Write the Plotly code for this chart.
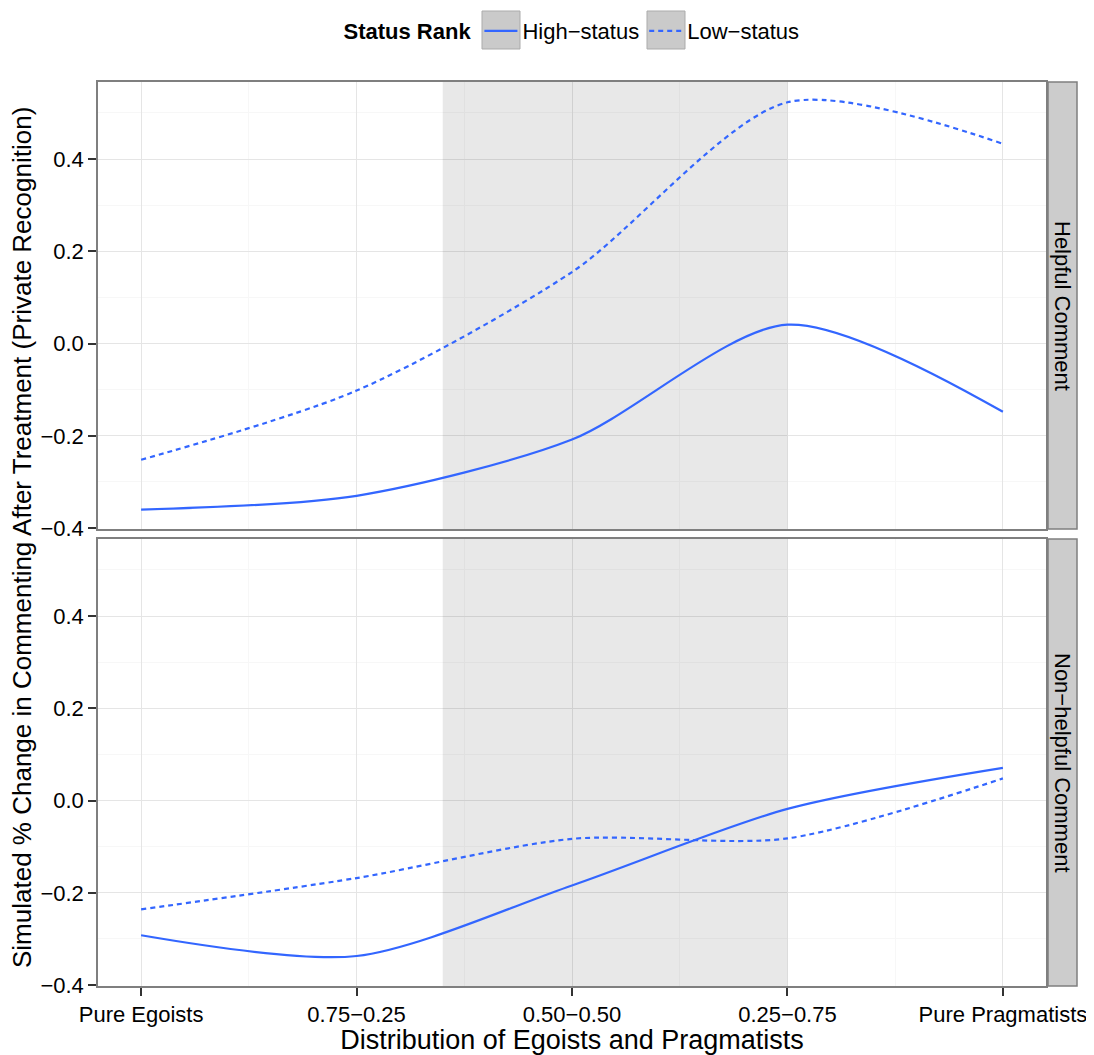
import plotly.graph_objects as go

# ---------------- data ----------------
categories = ["Pure Egoists", "0.75\u22120.25", "0.50\u22120.50", "0.25\u22120.75", "Pure Pragmatists"]
x_pos = [1, 2, 3, 4, 5]

helpful_high = [-0.360, -0.330, -0.208, 0.041, -0.148]
helpful_low = [-0.252, -0.102, 0.155, 0.523, 0.433]
nonhelpful_high = [-0.292, -0.337, -0.184, -0.018, 0.071]
nonhelpful_low = [-0.236, -0.168, -0.083, -0.082, 0.048]

facet_labels = ["Helpful Comment", "Non\u2212helpful Comment"]
series_names = ["High\u2212status", "Low\u2212status"]
shade_start, shade_end = 2.4, 4.0
y_ticks = [-0.4, -0.2, 0.0, 0.2, 0.4]
X_RANGE = [0.8, 5.2]
Y_RANGE = [-0.402, 0.567]

# ---------------- style ----------------
FONT = "Liberation Sans, Arial, Helvetica, sans-serif"
BLUE = "#3366FF"
BORDER = "#7f7f7f"
OFF = 8  # page body margin
W, H = 1094 - OFF, 1055 - OFF
ML = 98 - OFF
MT = 82 - OFF
MR = W - (1077 - OFF)
MB = H - (986 - OFF)
PW = W - ML - MR
PH = H - MT - MB


def px_x(page_x):
    return (page_x - OFF - ML) / PW


def px_y(page_y):
    return 1 + (MT - (page_y - OFF)) / PH


x_dom_end = px_x(1046)
strip_x0 = px_x(1048)
top_dom = [px_y(529), 1.0]
bot_dom = [0.0, px_y(539)]

SMOOTH = 0.8

fig = go.Figure()

panels = [
    ("x", "y", helpful_high, helpful_low),
    ("x2", "y2", nonhelpful_high, nonhelpful_low),
]
for i, (xa, ya, hi, lo) in enumerate(panels):
    fig.add_trace(go.Scatter(
        x=x_pos, y=hi, mode="lines", name=series_names[0],
        line=dict(color=BLUE, width=2.2, shape="spline", smoothing=SMOOTH),
        xaxis=xa, yaxis=ya, showlegend=(i == 0), legendgroup="hi"))
    fig.add_trace(go.Scatter(
        x=x_pos, y=lo, mode="lines", name=series_names[1],
        line=dict(color=BLUE, width=2.2, shape="spline", smoothing=SMOOTH, dash="5px,4px"),
        xaxis=xa, yaxis=ya, showlegend=(i == 0), legendgroup="lo"))

shapes = []
annotations = []
for xa, ya, dom, lab in [("x", "y", top_dom, facet_labels[0]), ("x2", "y2", bot_dom, facet_labels[1])]:
    shapes.append(dict(type="rect", xref=xa, yref=ya, x0=shade_start, x1=shade_end,
                       y0=Y_RANGE[0], y1=Y_RANGE[1], fillcolor="rgba(0,0,0,0.09)", line=dict(width=0),
                       layer="between"))
    shapes.append(dict(type="rect", xref="paper", yref="paper", x0=strip_x0, x1=1.0,
                       y0=dom[0], y1=dom[1], fillcolor="#cccccc", line=dict(color=BORDER, width=1.5),
                       layer="below"))
    annotations.append(dict(text=lab, xref="paper", yref="paper", x=(strip_x0 + 1.0) / 2,
                            y=(dom[0] + dom[1]) / 2,
                            showarrow=False, textangle=90, font=dict(size=22, color="#000000", family=FONT),
                            xanchor="center", yanchor="middle"))

# legend key backgrounds
for cx in (501, 666):
    shapes.append(dict(type="rect", xref="paper", yref="paper", x0=px_x(cx - 19), x1=px_x(cx + 19),
                       y0=px_y(49), y1=px_y(11), fillcolor="#cacaca", line=dict(color="#ababab", width=1),
                       layer="below"))

annotations.append(dict(text="Simulated % Change in Commenting After Treatment (Private Recognition)",
                        xref="paper", yref="paper", x=px_x(22), y=px_y(538),
                        showarrow=False, textangle=-90, xanchor="center", yanchor="middle",
                        font=dict(size=26, color="#000000", family=FONT)))

common_x = dict(range=X_RANGE, tickvals=x_pos, ticktext=categories,
                showgrid=True, gridcolor="#e5e5e5", gridwidth=1,
                minor=dict(dtick=0.5, tick0=0.5, showgrid=True, gridcolor="#f7f7f7", gridwidth=1),
                showline=True, mirror=True, linecolor=BORDER, linewidth=1.5,
                zeroline=False, domain=[0, x_dom_end], automargin=False)
common_y = dict(range=Y_RANGE, tickvals=y_ticks, tickformat=".1f",
                showgrid=True, gridcolor="#e5e5e5", gridwidth=1,
                minor=dict(dtick=0.1, tick0=0.1, showgrid=True, gridcolor="#f7f7f7", gridwidth=1),
                showline=True, mirror=True, linecolor=BORDER, linewidth=1.5,
                zeroline=False, ticks="outside", ticklen=8, tickwidth=2, tickcolor="#333333",
                tickfont=dict(size=22, color="#000000", family=FONT), ticklabelstandoff=0,
                automargin=False)

fig.update_layout(
    width=W, height=H,
    margin=dict(l=ML, r=MR, t=MT, b=MB, autoexpand=False),
    paper_bgcolor="white", plot_bgcolor="white",
    font=dict(family=FONT, color="#000000"),
    xaxis=dict(**common_x, anchor="y", matches="x2", showticklabels=False, ticks=""),
    xaxis2=dict(**common_x, anchor="y2", ticks="outside", ticklen=8, tickwidth=2, tickcolor="#333333",
                tickfont=dict(size=22, color="#000000", family=FONT),
                title=dict(text="Distribution of Egoists and Pragmatists", standoff=0,
                           font=dict(size=27, color="#000000", family=FONT))),
    yaxis=dict(**common_y, domain=top_dom, anchor="x"),
    yaxis2=dict(**common_y, domain=bot_dom, anchor="x2"),
    shapes=shapes,
    annotations=annotations,
    legend=dict(orientation="h", x=px_x(573), xanchor="center", y=px_y(10), yanchor="top",
                title=dict(text="<b>Status Rank</b>", font=dict(size=22, family=FONT, color="#000000")),
                font=dict(size=22, family=FONT, color="#000000"), bgcolor="rgba(0,0,0,0)",
                itemwidth=33, tracegroupgap=0),
    showlegend=True,
)

fig.write_html("out.html")
